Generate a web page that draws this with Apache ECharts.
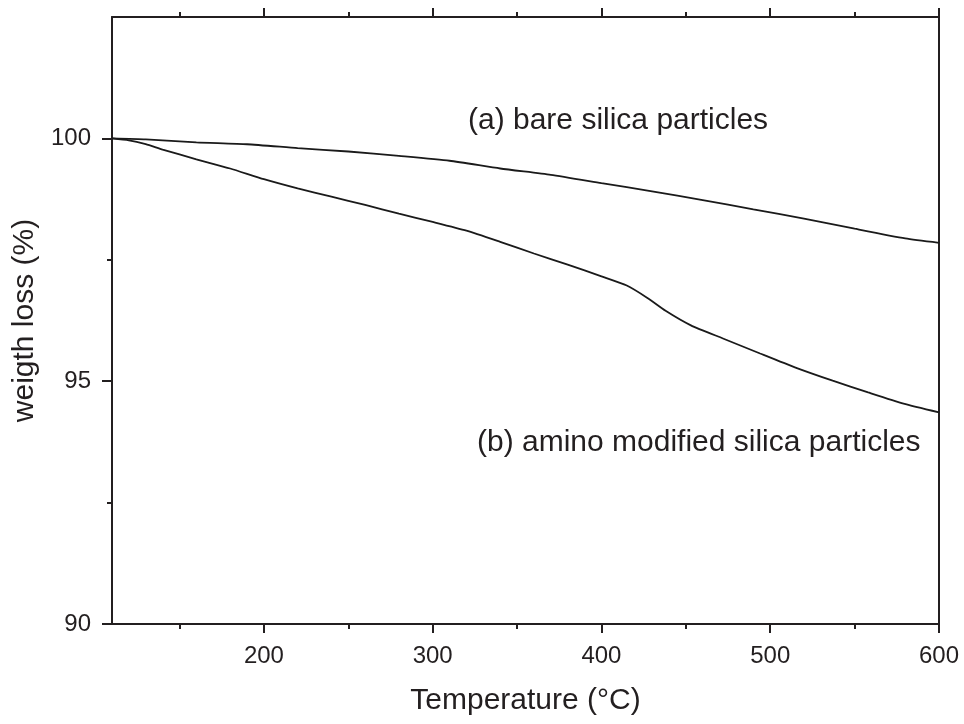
<!DOCTYPE html>
<html>
<head>
<meta charset="utf-8">
<script src="https://cdn.jsdelivr.net/npm/echarts@6/dist/echarts.min.js"></script>
<style>html,body{margin:0;padding:0;background:#fff}#chart{width:964px;height:724px}</style>
</head>
<body>
<div id="chart"></div>
<script>
// Curve (a): bare silica particles
const tempA   = [110, 130, 160, 190, 220, 250, 280, 310, 340, 370, 400, 430, 460, 490, 520, 550, 580, 600];
const weightA = [100.00, 99.98, 99.92, 99.88, 99.80, 99.73, 99.64, 99.54, 99.38, 99.25, 99.08, 98.91, 98.73, 98.54, 98.35, 98.14, 97.94, 97.85];
// Curve (b): amino modified silica particles
const tempB   = [110, 120, 130, 140, 160, 180, 200, 220, 240, 260, 280, 300, 320, 340, 360, 380, 400, 415, 427, 438, 453, 472, 494, 515, 537, 558, 579, 600];
const weightB = [100.00, 99.96, 99.88, 99.77, 99.57, 99.38, 99.16, 98.97, 98.80, 98.63, 98.45, 98.28, 98.10, 97.87, 97.63, 97.40, 97.16, 96.97, 96.72, 96.45, 96.15, 95.88, 95.57, 95.28, 95.01, 94.77, 94.54, 94.36];

const xMajorTicks = [200, 300, 400, 500, 600];
const xMinorTicks = [150, 250, 350, 450, 550];
const yMajorTicks = [90, 95, 100];
const yMinorTicks = [92.5, 97.5];

const labelA = '(a) bare silica particles';
const labelB = '(b) amino modified silica particles';
const xTitle = 'Temperature (°C)';
const yTitle = 'weigth loss (%)';

const FONT = '"Liberation Sans", Arial, Helvetica, sans-serif';
const AX = '#231f20';
const lineAx = { show: true, lineStyle: { color: AX, width: 2 } };

const chart = echarts.init(document.getElementById('chart'), null, { renderer: 'canvas' });

const xBase = { type: 'value', min: 110, max: 600, splitLine: { show: false } };
const yBase = { type: 'value', min: 90, max: 102.5, splitLine: { show: false } };

chart.setOption({
  animation: false,
  backgroundColor: '#fff',
  grid: { left: 112, right: 25, top: 17, bottom: 100, containLabel: false },
  xAxis: [
    Object.assign({}, xBase, {
      position: 'bottom', axisLine: lineAx,
      name: xTitle, nameLocation: 'middle', nameGap: 62,
      nameTextStyle: { fontFamily: FONT, fontSize: 30, color: AX },
      axisTick: { show: true, inside: false, length: 9, lineStyle: { color: AX, width: 2 }, customValues: xMajorTicks },
      axisLabel: { show: true, margin: 20, fontFamily: FONT, fontSize: 24, color: AX, customValues: xMajorTicks }
    }),
    Object.assign({}, xBase, {
      position: 'bottom', axisLine: { show: false },
      axisTick: { show: true, inside: false, length: 5, lineStyle: { color: AX, width: 2 }, customValues: xMinorTicks },
      axisLabel: { show: false }
    }),
    Object.assign({}, xBase, {
      position: 'top', axisLine: lineAx,
      axisTick: { show: true, inside: false, length: 9, lineStyle: { color: AX, width: 2 }, customValues: xMajorTicks },
      axisLabel: { show: false }
    }),
    Object.assign({}, xBase, {
      position: 'top', axisLine: { show: false },
      axisTick: { show: true, inside: false, length: 5, lineStyle: { color: AX, width: 2 }, customValues: xMinorTicks },
      axisLabel: { show: false }
    })
  ],
  yAxis: [
    Object.assign({}, yBase, {
      position: 'left', axisLine: lineAx,
      name: yTitle, nameLocation: 'middle', nameGap: 68,
      nameTextStyle: { fontFamily: FONT, fontSize: 30, color: AX },
      axisTick: { show: true, inside: false, length: 10, lineStyle: { color: AX, width: 2 }, customValues: yMajorTicks },
      axisLabel: { show: true, margin: 21, fontFamily: FONT, fontSize: 24, color: AX, customValues: yMajorTicks }
    }),
    Object.assign({}, yBase, {
      position: 'left', axisLine: { show: false },
      axisTick: { show: true, inside: false, length: 5, lineStyle: { color: AX, width: 2 }, customValues: yMinorTicks },
      axisLabel: { show: false }
    }),
    Object.assign({}, yBase, {
      position: 'right', axisLine: lineAx,
      axisTick: { show: false }, axisLabel: { show: false }
    })
  ],
  series: [
    {
      name: labelA, type: 'line', xAxisIndex: 0, yAxisIndex: 0,
      showSymbol: false, smooth: 0.2,
      lineStyle: { color: '#1a1a1a', width: 1.8 },
      data: tempA.map((t, i) => [t, weightA[i]])
    },
    {
      name: labelB, type: 'line', xAxisIndex: 0, yAxisIndex: 0,
      showSymbol: false, smooth: 0.2,
      lineStyle: { color: '#1a1a1a', width: 1.8 },
      data: tempB.map((t, i) => [t, weightB[i]])
    }
  ],
  graphic: [
    { type: 'text', left: 468, top: 106, style: { text: labelA, fontFamily: FONT, fontSize: 30, fill: AX } },
    { type: 'text', left: 477, top: 428, style: { text: labelB, fontFamily: FONT, fontSize: 30, fill: AX } }
  ]
});
</script>
</body>
</html>
